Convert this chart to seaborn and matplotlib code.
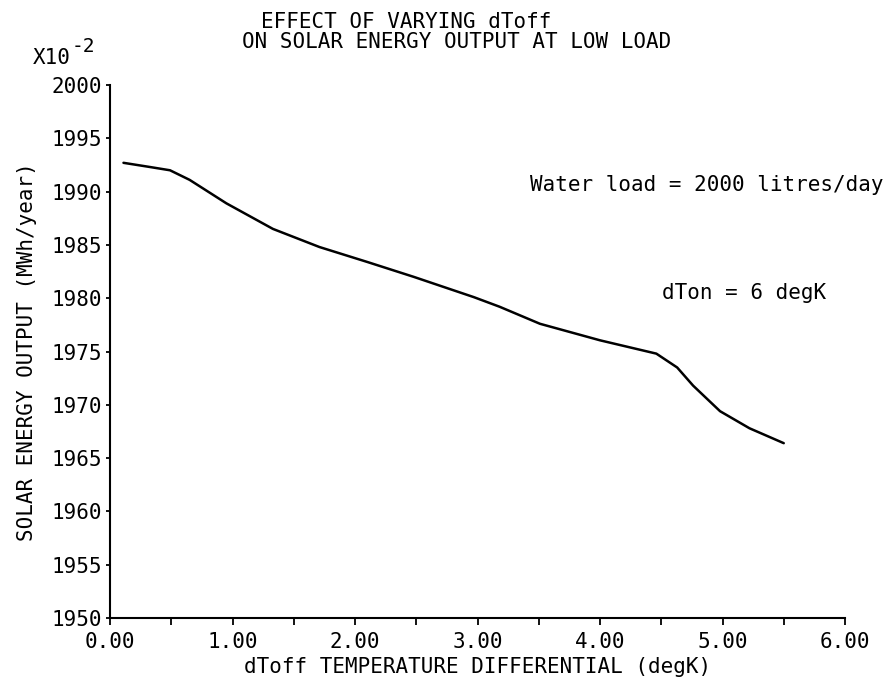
import matplotlib
matplotlib.use("Agg")
import matplotlib.pyplot as plt
import seaborn as sns
import numpy as np
from matplotlib.ticker import MultipleLocator, FormatStrFormatter

# dToff (degK) vs solar energy output (x10^-2 MWh/year)
dtoff = [0.11, 0.33, 0.49, 0.65, 0.95, 1.33, 1.71, 2.10, 2.48, 2.97, 3.18,
         3.51, 4.00, 4.46, 4.63, 4.76, 4.98, 5.22, 5.50]
energy = [1992.7, 1992.3, 1992.0, 1991.1, 1988.9, 1986.5, 1984.8, 1983.4,
          1982.0, 1980.1, 1979.2, 1977.6, 1976.05, 1974.8, 1973.5, 1971.8,
          1969.4, 1967.8, 1966.4]

title_lines = ["EFFECT OF VARYING dToff", "ON SOLAR ENERGY OUTPUT AT LOW LOAD"]
notes = ["Water load = 2000 litres/day", "dTon = 6 degK"]

sns.set_style("ticks")
plt.rcParams["font.family"] = ["DejaVu Sans Mono", "DejaVu Sans"]
plt.rcParams["text.color"] = "black"
plt.rcParams["axes.labelcolor"] = "black"
FS = 15

fig = plt.figure(figsize=(8.96, 6.85), dpi=100)
ax = fig.add_axes([110 / 896, 1 - 618 / 685, 735 / 896, 533 / 685])

sns.lineplot(x=dtoff, y=energy, ax=ax, color="black", linewidth=1.8)

ax.set_xlim(0, 6)
ax.set_ylim(1950, 2000)
ax.xaxis.set_major_locator(MultipleLocator(1))
ax.xaxis.set_minor_locator(MultipleLocator(0.5))
ax.xaxis.set_major_formatter(FormatStrFormatter("%.2f"))
ax.yaxis.set_major_locator(MultipleLocator(5))
ax.yaxis.set_major_formatter(FormatStrFormatter("%d"))
ax.tick_params(axis="x", which="both", direction="out", length=5, width=1.3,
               labelsize=FS, pad=5, color="black", labelcolor="black")
ax.tick_params(axis="y", direction="out", length=3, width=1.3,
               labelsize=FS, pad=3, color="black", labelcolor="black")

sns.despine(ax=ax)
for s in ["left", "bottom"]:
    ax.spines[s].set_linewidth(1.5)
    ax.spines[s].set_color("black")

ax.set_xlabel("dToff TEMPERATURE DIFFERENTIAL (degK)", fontsize=FS, labelpad=4)
ax.set_ylabel("SOLAR ENERGY OUTPUT (MWh/year)", fontsize=FS)
ax.yaxis.set_label_coords(-0.099, 0.5)

fig.text(406 / 896, 1 - 22 / 685, title_lines[0], fontsize=FS, ha="center", va="center")
fig.text(457 / 896, 1 - 42 / 685, title_lines[1], fontsize=FS, ha="center", va="center")

fig.text(33 / 896, 1 - 58 / 685, "X10", fontsize=FS, ha="left", va="center")
fig.text(72 / 896, 1 - 47 / 685, "-2", fontsize=FS - 1, ha="left", va="center")

ax.text(3.43, 1990.6, notes[0], fontsize=FS, ha="left", va="center")
ax.text(4.51, 1980.5, notes[1], fontsize=FS, ha="left", va="center")

fig.savefig("out.png", dpi=100, facecolor="white")
